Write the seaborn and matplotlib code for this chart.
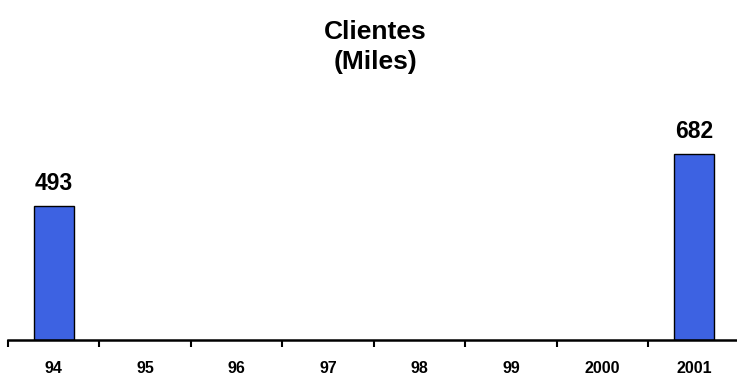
import matplotlib
matplotlib.use("Agg")
import matplotlib.pyplot as plt
import seaborn as sns
import numpy as np
import pandas as pd

years = ["94", "95", "96", "97", "98", "99", "2000", "2001"]
clientes = [493, np.nan, np.nan, np.nan, np.nan, np.nan, np.nan, 682]
labels_shown = ["493", "", "", "", "", "", "", "682"]

sns.set_theme(style="white")
plt.rcParams["font.family"] = ["Liberation Sans", "DejaVu Sans"]
plt.rcParams["text.color"] = "black"
plt.rcParams["xtick.color"] = "black"

df = pd.DataFrame({"year": years, "clientes": clientes})

fig = plt.figure(figsize=(7.37, 3.80), dpi=100)
ax = fig.add_axes([8 / 737, 40 / 380, 729 / 737, 240 / 380])

sns.barplot(data=df, x="year", y="clientes", ax=ax, color="#3d62e2",
            width=0.44, edgecolor="black", linewidth=1.0, saturation=1)

for i, (v, t) in enumerate(zip(clientes, labels_shown)):
    if t:
        ax.text(i, v + 40, t, ha="center", va="bottom",
                fontsize=16.5, fontweight="bold", color="black")

ax.set_xlim(-0.46, 7.47)
ax.set_ylim(0, 880)
ax.set_xlabel("")
ax.set_ylabel("")
ax.set_yticks([])

# category labels centered, small tick marks on the boundaries
ax.set_xticks(np.arange(len(years)))
ax.set_xticklabels(years, fontsize=11.5, fontweight="bold", color="black")
ax.tick_params(axis="x", which="major", length=0, pad=15)
ax.set_xticks(np.arange(len(years)) - 0.5, minor=True)
ax.tick_params(axis="x", which="minor", length=5, width=1.5,
               direction="out", color="black", bottom=True)

for s in ["top", "right", "left"]:
    ax.spines[s].set_visible(False)
ax.spines["bottom"].set_linewidth(1.8)
ax.spines["bottom"].set_color("black")

fig.text(0.509, 1 - 32 / 380, "Clientes", ha="center", va="center",
         fontsize=19, fontweight="bold", color="black")
fig.text(0.509, 1 - 62 / 380, "(Miles)", ha="center", va="center",
         fontsize=19, fontweight="bold", color="black")

fig.savefig("out.png", dpi=100, facecolor="white")
